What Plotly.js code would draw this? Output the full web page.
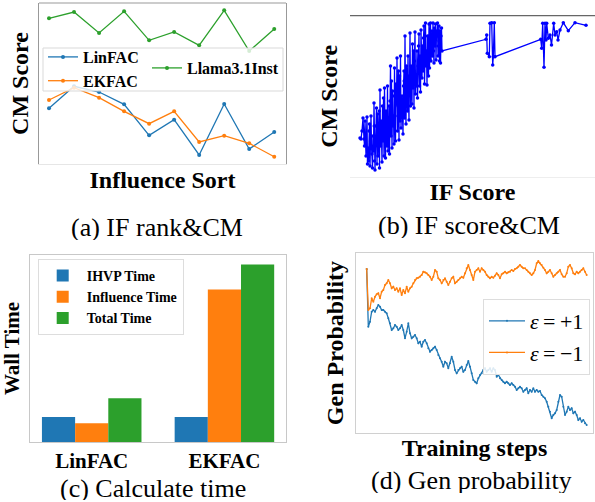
<!DOCTYPE html>
<html>
<head>
<meta charset="utf-8">
<script src="https://cdn.plot.ly/plotly-3.0.1.min.js"></script>
<style>html,body{margin:0;padding:0;background:#fff;}#chart{width:595px;height:502px;}</style>
</head>
<body>
<div id="chart"></div>
<script>
// ---------- (a) IF rank & CM ----------
const rankLinFAC = [55.7, 77.7, 72, 59.7, 28.7, 44.3, 9, 60, 15, 32];
const rankEKFAC  = [64, 76.3, 66.3, 52.7, 40.3, 52.7, 22, 28.3, 20.7, 7.3];
const rankLlama  = [145.7, 152, 131, 152.7, 123.7, 132, 118.7, 153.7, 113, 135];

// ---------- (b) IF score & CM ----------
const ifScore = [10, 11, 12, 13, 14, 14.5, 15, 15.5, 16, 17, 17.5, 18, 18.5, 19, 19.5, 20, 20.5, 21, 21.5, 22,
  22.5, 23, 23.5, 24, 24.2, 24.5, 25, 25.5, 26, 26.5, 27, 27.5, 28, 28.5, 29, 29.2, 29.5, 30, 30.5, 31,
  31.5, 32, 32.5, 33, 33.5, 34, 34.2, 34.5, 35, 35.5, 36, 36.5, 37, 37.5, 38, 38.5, 39, 39.2, 39.5, 40,
  40.5, 41, 41.5, 42, 42.5, 43, 43.5, 44, 44.2, 44.5, 45, 45.5, 46, 46.5, 47, 47.5, 48, 48.5, 49, 49.2,
  49.5, 50, 50.5, 51, 51.5, 52, 52.5, 53, 53.5, 54, 54.2, 54.5, 55, 55.5, 56, 56.5, 57, 57.5, 58, 58.5,
  59, 59.2, 59.5, 60, 60.5, 61, 61.5, 62, 62.5, 63, 63.5, 64, 64.2, 64.5, 65, 65.5, 66, 66.5, 67, 67.5,
  68, 68.5, 69, 69.2, 69.5, 70, 70.5, 71, 71.5, 72, 72.5, 73, 73.5, 74, 74.2, 74.5, 75, 75.5, 76, 76.5,
  77, 77.5, 78, 78.5, 79, 79.2, 79.5, 80, 80.5, 81, 81.5, 82, 82.5, 83, 83.5, 84, 84.2, 84.5, 85, 85.5,
  86, 86.5, 87, 87.5, 88, 88.5, 89, 89.2, 89.5, 90, 90.5, 91, 91.5, 92,
  136, 136.7, 137.3, 139.3, 140, 141.7, 142.7, 143.3, 144.3, 145,
  190.7, 191.7, 192.7, 194, 195, 196, 196.7, 198.3, 200, 201.5, 203.7, 205, 206.7, 208, 210, 213.3, 218.3, 225, 236];
const cmScore = [38, 37, 45, 58, 37, 30, 55, 42, 20, 59, 12, 28, 15, 45, 52, 10, 35, 60, 30, 22,
  8, 40, 25, 73, 50, 15, 6, 30, 50, 68, 12, 62, 20, 35, 45, 65, 8, 86, 30, 55,
  40, 14, 70, 35, 78, 20, 55, 88, 45, 18, 65, 50, 30, 90, 25, 40, 55, 70, 22, 75,
  110, 40, 95, 28, 85, 50, 60, 32, 80, 108, 60, 35, 92, 72, 118, 45, 70, 105, 36, 85,
  100, 55, 120, 48, 65, 80, 62, 42, 90, 105, 95, 58, 140, 75, 52, 110, 98, 65, 120, 80,
  56, 100, 85, 143, 70, 110, 95, 72, 132, 88, 125, 68, 105, 115, 144, 82, 100, 90, 125, 78,
  110, 130, 142, 115, 90, 120, 84, 146, 110, 98, 130, 105, 138, 150, 125, 92, 118, 153, 110, 125,
  91, 140, 125, 100, 152, 140, 108, 135, 153, 115, 135, 145, 120, 153, 125, 113, 138, 148, 130, 152,
  116, 145, 140, 153, 120, 130, 150, 135, 115, 145, 113, 140, 148, 125,
  136.7, 141, 122.7, 119.3, 152.7, 153.3, 111, 119.3, 153.3, 119.3,
  136.7, 127.7, 152.7, 108.7, 152.7, 136, 152.7, 137.7, 141, 131, 152.7, 141, 144.3, 136, 146, 153.3, 145.3, 153.3, 150.7];

// ---------- (c) Calculate time ----------
const methods = ['LinFAC', 'EKFAC'];
const ihvpTime = [1.0, 1.0];
const influenceTime = [0.75, 6.1];
const totalTime = [1.75, 7.1];

// ---------- (d) Gen probability ----------
const genPlus = [171, 113.3, 118.3, 128.3, 130, 128.3, 131.7, 135, 133.3, 130,
  130, 128.3, 126.7, 121.7, 116.7, 110, 111.7, 115, 113.3, 110,
  111.7, 115, 110, 101.7, 108.3, 116.7, 106.7, 101.7, 103.3, 105,
  101.7, 96.7, 98.3, 93.3, 98.3, 100, 96.7, 91.7, 88.3, 90,
  91.7, 93.3, 90, 85, 81.7, 78.3, 73.3, 78.3, 76.7, 71.7,
  76.7, 83.3, 78.3, 70, 66.7, 70, 71.7, 73.3, 68.3, 70,
  75, 79, 73.3, 66.7, 60,
  58.3, 56.7, 61.7, 65, 66.7, 70, 71.7, 68.3, 70, 71.7,
  68.3, 71.7, 70, 63.3, 65, 61.7, 60, 58.3, 56.7, 58.3,
  56.7, 55, 56.7, 55, 53.3, 50, 51.7, 53.3, 51.7, 48.3,
  50, 51.7, 46.7, 50, 48.3, 51.7, 48.3, 50, 48.3, 49,
  45, 43.3, 41.7, 38.3, 33.3, 28.3, 21.7, 25, 26.7, 30,
  38.3, 45, 43.3, 33.3, 25, 28.3, 33.3, 30, 31.7, 26.7,
  28.3, 25, 20, 21.7, 18.3, 20, 16.7, 15];
const genMinus = [171, 130, 131.7, 141.7, 138.3, 143.3, 145.7, 146.7, 141.7, 148.3,
  150, 155, 156.7, 160, 156.7, 151.7, 153.3, 150, 151.7, 148.3,
  151.7, 145, 150, 146.7, 153.3, 148.3, 151.7, 153.3, 156.7, 160,
  161.7, 162.3, 163.3, 165, 168.3, 167.7, 166.7, 165, 163.3, 160,
  163.3, 170, 168.3, 161.7, 160, 156.7, 160, 161.7, 158.3, 155,
  158.3, 161.7, 163.3, 156.7, 158.3, 160, 161.7, 163.3, 162.3, 166.7,
  171.7, 175, 170, 165, 160,
  168.3, 170, 171.7, 168.3, 171.7, 170, 168.3, 165, 163.3, 161.7,
  163.3, 162.3, 164.3, 166.7, 165, 161.7, 165.7, 166.7, 168.3, 166.7,
  167.7, 168.3, 170, 169, 171, 171.7, 173.3, 175, 173.3, 171.7,
  171.7, 170, 168.3, 166.7, 165, 166.7, 170, 176.7, 179, 176.7,
  175, 172.3, 170, 166.7, 168.3, 170, 166.7, 163.3, 165, 166.7,
  168.3, 170, 165.7, 163.3, 163.3, 166.7, 173.3, 175, 171.7, 166.7,
  165.7, 168.3, 166.7, 168.3, 170, 171.7, 168.3, 165];

const BLUE = '#1f77b4', ORANGE = '#ff7f0e', GREEN = '#2ca02c';
const SERIF = 'Liberation Serif, Times New Roman, serif';

const traces = [
  {y: rankLinFAC, name: 'LinFAC', type: 'scatter', mode: 'lines+markers', xaxis: 'x', yaxis: 'y',
   line: {color: BLUE, width: 1.3}, marker: {size: 4, color: BLUE}, legend: 'legend'},
  {y: rankEKFAC, name: 'EKFAC', type: 'scatter', mode: 'lines+markers', xaxis: 'x', yaxis: 'y',
   line: {color: ORANGE, width: 1.3}, marker: {size: 4, color: ORANGE}, legend: 'legend'},
  {y: rankLlama, name: 'Llama3.1Inst', type: 'scatter', mode: 'lines+markers', xaxis: 'x', yaxis: 'y',
   line: {color: GREEN, width: 1.3}, marker: {size: 4, color: GREEN}, legend: 'legend2'},

  {x: ifScore, y: cmScore, name: 'IF score vs CM', type: 'scatter', mode: 'lines+markers', xaxis: 'x2', yaxis: 'y2',
   line: {color: '#0000ff', width: 1.3}, marker: {size: 3.5, color: '#0000ff'}, showlegend: false},

  {x: methods, y: ihvpTime, name: 'IHVP Time', type: 'bar', xaxis: 'x3', yaxis: 'y3',
   marker: {color: BLUE}, legend: 'legend3'},
  {x: methods, y: influenceTime, name: 'Influence Time', type: 'bar', xaxis: 'x3', yaxis: 'y3',
   marker: {color: ORANGE}, legend: 'legend3'},
  {x: methods, y: totalTime, name: 'Total Time', type: 'bar', xaxis: 'x3', yaxis: 'y3',
   marker: {color: GREEN}, legend: 'legend3'},

  {y: genPlus, name: '<i>ε</i>\u2009=\u2009+1', type: 'scatter', mode: 'lines+markers', xaxis: 'x4', yaxis: 'y4',
   line: {color: BLUE, width: 1.3}, marker: {size: 2, color: BLUE}, legend: 'legend4'},
  {y: genMinus, name: '<i>ε</i>\u2009=\u2009\u22121', type: 'scatter', mode: 'lines+markers', xaxis: 'x4', yaxis: 'y4',
   line: {color: ORANGE, width: 1.3}, marker: {size: 2, color: ORANGE}, legend: 'legend4'}
];

const W = 595, H = 502;
const px = v => v / W;
const py = v => 1 - v / H;

const titleFont = s => ({family: SERIF, size: s, color: '#000', weight: 'bold'});
const baseAxis = {showgrid: false, zeroline: false, showticklabels: false, ticks: '', automargin: false};

const layout = {
  width: W, height: H, autosize: false,
  margin: {l: 0, r: 0, t: 0, b: 0, pad: 0},
  paper_bgcolor: '#fff', plot_bgcolor: '#fff',
  font: {family: SERIF, color: '#000'},
  barmode: 'group', bargap: 0.25, bargroupgap: 0,

  xaxis: Object.assign({}, baseAxis, {domain: [px(39), px(286)], range: [-0.4, 9.47], anchor: 'y',
    showline: true, linecolor: '#e6e6e6', linewidth: 1,
    title: {text: 'Influence Sort', font: titleFont(24), standoff: 7}}),
  yaxis: Object.assign({}, baseAxis, {domain: [py(164), py(3)], range: [0, 161], anchor: 'x',
    showline: true, mirror: true, linecolor: '#999', linewidth: 1,
    title: {text: 'CM Score', font: titleFont(24), standoff: 2}}),

  xaxis2: Object.assign({}, baseAxis, {domain: [px(350), 1], range: [0, 245], anchor: 'y2',
    showline: true, linecolor: '#eeeeee', linewidth: 1,
    title: {text: 'IF Score', font: titleFont(24), standoff: 6}}),
  yaxis2: Object.assign({}, baseAxis, {domain: [py(177), py(15.7)], range: [-1, 160.3], anchor: 'x2',
    title: {text: 'CM Score', font: titleFont(24), standoff: 4}}),

  xaxis3: Object.assign({}, baseAxis, {domain: [px(30), px(286)], range: [-0.465, 1.464], anchor: 'y3',
    type: 'category', showline: true, mirror: true, linecolor: '#c8c8c8', linewidth: 1,
    showticklabels: true, ticks: '',
    tickfont: {family: SERIF, size: 21, color: '#000', weight: 'bold'}}),
  yaxis3: Object.assign({}, baseAxis, {domain: [py(442), py(255)], range: [0, 7.48], anchor: 'x3',
    showline: true, mirror: true, linecolor: '#c8c8c8', linewidth: 1,
    title: {text: 'Wall Time', font: titleFont(21), standoff: 4}}),

  xaxis4: Object.assign({}, baseAxis, {domain: [px(356), px(593)], range: [-6.4, 135.8], anchor: 'y4',
    showline: true, mirror: true, linecolor: '#d0d0d0', linewidth: 1,
    title: {text: 'Training steps', font: titleFont(24), standoff: 6}}),
  yaxis4: Object.assign({}, baseAxis, {domain: [py(433), py(253)], range: [7, 187], anchor: 'x4',
    showline: true, mirror: true, linecolor: '#d0d0d0', linewidth: 1,
    title: {text: 'Gen Probability', font: titleFont(24), standoff: 4}}),

  legend: {x: px(43), y: py(40), xanchor: 'left', yanchor: 'top', bgcolor: 'rgba(0,0,0,0)', borderwidth: 0,
    font: {family: SERIF, size: 16, color: '#000', weight: 'bold'}, traceorder: 'normal'},
  legend2: {x: px(147), y: py(51), xanchor: 'left', yanchor: 'top', bgcolor: 'rgba(0,0,0,0)', borderwidth: 0,
    font: {family: SERIF, size: 16, color: '#000', weight: 'bold'}},
  legend3: {x: px(37.7), y: py(259), xanchor: 'left', yanchor: 'top', bgcolor: 'rgba(255,255,255,0.85)',
    bordercolor: '#dddddd', borderwidth: 1, itemwidth: 38, traceorder: 'normal',
    font: {family: SERIF, size: 14, color: '#000', weight: 'bold'}},
  legend4: {x: px(483), y: py(299), xanchor: 'left', yanchor: 'top', bgcolor: 'rgba(255,255,255,0.85)',
    bordercolor: '#dddddd', borderwidth: 1, itemwidth: 36, traceorder: 'normal',
    font: {family: SERIF, size: 22, color: '#000'}},

  shapes: [
    {type: 'rect', xref: 'paper', yref: 'paper', x0: px(43), x1: px(283), y0: py(91), y1: py(48),
     fillcolor: 'rgba(255,255,255,0.8)', line: {color: '#d9d9d9', width: 1}, layer: 'above'},
    {type: 'line', xref: 'paper', yref: 'paper', x0: px(39), x1: px(286), y0: py(3), y1: py(3),
     line: {color: '#999', width: 1}, layer: 'above'},
    {type: 'line', xref: 'paper', yref: 'paper', x0: px(350), x1: 1, y0: py(15.7), y1: py(15.7),
     line: {color: '#666', width: 1.2}, layer: 'above'}
  ],

  annotations: [
    {text: '(a) IF rank&amp;CM', xref: 'paper', yref: 'paper', x: px(156.5), y: py(226.7), xanchor: 'center', yanchor: 'middle',
     height: 26, showarrow: false, font: {family: SERIF, size: 26, color: '#000'}},
    {text: '(b) IF score&amp;CM', xref: 'paper', yref: 'paper', x: px(468.5), y: py(225), xanchor: 'center', yanchor: 'middle',
     height: 26, showarrow: false, font: {family: SERIF, size: 26, color: '#000'}},
    {text: '(c) Calculate time', xref: 'paper', yref: 'paper', x: px(153), y: py(488), xanchor: 'center', yanchor: 'middle',
     height: 24, showarrow: false, font: {family: SERIF, size: 26, color: '#000'}},
    {text: '(d) Gen probability', xref: 'paper', yref: 'paper', x: px(471), y: py(480), xanchor: 'center', yanchor: 'middle',
     height: 26, showarrow: false, font: {family: SERIF, size: 26, color: '#000'}}
  ]
};

Plotly.newPlot('chart', traces, layout, {staticPlot: true, displayModeBar: false});
</script>
</body>
</html>
